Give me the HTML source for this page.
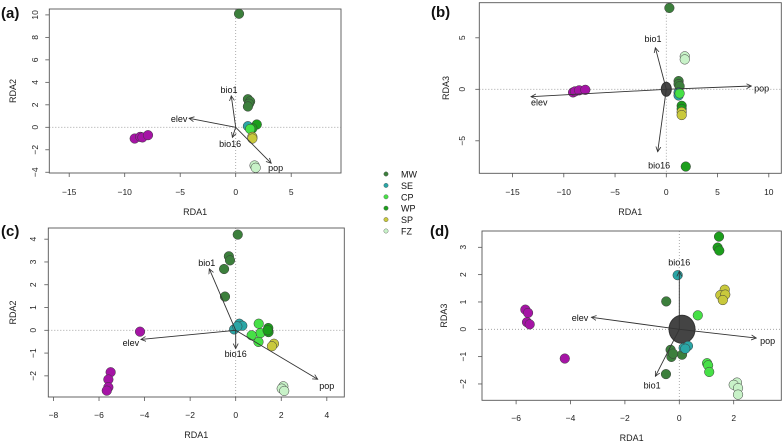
<!DOCTYPE html>
<html><head><meta charset="utf-8">
<style>
body{margin:0;background:#fff;}
svg{display:block;font-family:"Liberation Sans",sans-serif;}
.tk{font-size:8.5px;fill:#222;}
.ttl{font-size:9px;fill:#222;}
.lbl{font-size:9px;fill:#111;}
.pl{font-size:15px;font-weight:bold;fill:#111;}
</style></head>
<body>
<svg id="fig" width="784" height="444" viewBox="0 0 784 444"></svg>
<script>
const groupNames = ["MW","SE","CP","WP","SP","FZ","OUT"];
const groupColors = ["#3c7f3c","#2aa6a6","#46e046","#1c9e1c","#c9c93c","#c8f2c8","#a514a5"];
const legendGroups = ["MW","SE","CP","WP","SP","FZ"];

const aX = [-9.1,-8.6,-8.4,-7.9, 0.3,1.1,1.3,1.2,1.1, 1.1, 1.9,1.5, 1.3, 1.5,1.5, 1.7,1.8];
const aY = [-1.0,-0.85,-0.9,-0.7, 10.1,2.5,2.3,2.1,1.85, 0.1, 0.25,-0.1, -0.15, -0.85,-1.0, -3.4,-3.6];
const aG = ["OUT","OUT","OUT","OUT","MW","MW","MW","MW","MW","SE","WP","WP","CP","SP","SP","FZ","FZ"];
const aVecNames = ["bio1","elev","bio16","pop"];
const aVecX = [-0.4,-4.2,-0.3,3.2];
const aVecY = [2.8,0.8,-0.9,-3.2];
const aLabX = [-0.6,-5.1,-0.5,3.6];
const aLabY = [3.3,0.75,-1.5,-3.6];
const aXTicks = [-15,-10,-5,0,5];
const aYTicks = [-4,-2,0,2,4,6,8,10];

const bX = [-9.1,-8.9,-8.5,-7.9, 0.3,1.2,1.2,1.3, 1.8,1.8, 1.2,1.2, 1.3, 1.5,1.5, 1.5,1.5, 1.9];
const bY = [-0.3,-0.2,-0.1,-0.05, 7.9,0.8,0.5,0.3, 3.2,2.9, -0.3,-0.6, -0.4, -1.6,-1.9, -2.2,-2.5, -7.5];
const bG = ["OUT","OUT","OUT","OUT","MW","MW","MW","MW","FZ","FZ","SE","SE","CP","WP","WP","SP","SP","WP"];
const bVecNames = ["bio1","elev","bio16","pop"];
const bVecX = [-1.07,-13.2,-0.84,8.3];
const bVecY = [4.04,-0.72,-6.06,0.32];
const bLabX = [-1.3,-12.4,-0.7,9.3];
const bLabY = [4.9,-1.3,-7.4,0.1];
const bXTicks = [-15,-10,-5,0,5,10];
const bYTicks = [-5,0,5];

const cX = [-4.2,-5.49,-5.59,-5.59,-5.66, 0.09,-0.3,-0.25,-0.51,-0.47, -0.07,0.16,0.29,0.07, 1.01,1.09,0.7,1.0, 1.43,1.44,1.4, 1.68,1.59, 2.09,2.02,2.13];
const cY = [-0.06,-1.84,-2.16,-2.5,-2.65, 4.2,3.25,3.07,2.69,1.48, 0.04,0.29,0.2,0.17, 0.29,-0.12,-0.22,-0.51, 0.1,-0.08,0.0, -0.59,-0.7, -2.46,-2.56,-2.66];
const cG = ["OUT","OUT","OUT","OUT","OUT","MW","MW","MW","MW","MW","SE","SE","SE","SE","CP","CP","CP","CP","WP","WP","WP","SP","SP","FZ","FZ","FZ"];
const cVecNames = ["bio1","elev","bio16","pop"];
const cVecX = [-1.16,-4.16,0.0,3.6];
const cVecY = [2.7,-0.4,-0.8,-2.15];
const cLabX = [-1.27,-4.6,0.0,4.0];
const cLabY = [2.95,-0.55,-1.05,-2.45];
const cXTicks = [-8,-6,-4,-2,0,2,4];
const cYTicks = [-2,-1,0,1,2,3,4];

const dX = [-5.66,-5.56,-5.6,-5.5,-4.21, -0.48,-0.32,-0.29,0.1,-0.49,-0.23, -0.06,0.16,0.32,0.22, 0.68,1.02,1.06,1.1, 1.46,1.41,1.47, 1.67,1.51,1.69,1.6, 2.12,2.0,2.16,2.16];
const dY = [0.72,0.6,0.26,0.18,-1.07, 1.02,-0.75,-1.01,-0.93,-1.64,-0.89, 1.98,-0.68,-0.61,-0.71, 0.51,-1.24,-1.32,-1.56, 3.39,2.99,2.88, 1.45,1.25,1.27,1.07, -1.95,-2.03,-2.15,-2.39];
const dG = ["OUT","OUT","OUT","OUT","OUT","MW","MW","MW","MW","MW","MW","SE","SE","SE","SE","CP","CP","CP","CP","WP","WP","WP","SP","SP","SP","SP","FZ","FZ","FZ","FZ"];
const dVecNames = ["bio1","elev","bio16","pop"];
const dVecX = [-0.88,-3.23,0.0,2.83];
const dVecY = [-1.72,0.44,2.12,-0.32];
const dLabX = [-1.0,-3.65,0.0,3.25];
const dLabY = [-2.05,0.42,2.45,-0.42];
const dXTicks = [-6,-4,-2,0,2];
const dYTicks = [-2,-1,0,1,2,3];

const NS = "http://www.w3.org/2000/svg";
const svg = document.getElementById("fig");
function mk(tag, attrs, parent){
  const e = document.createElementNS(NS, tag);
  for (const k in attrs) e.setAttribute(k, attrs[k]);
  (parent||svg).appendChild(e);
  return e;
}
const defs = mk("defs",{});
const mkr = mk("marker",{id:"ah",markerWidth:"6",markerHeight:"6",refX:"5",refY:"3",orient:"auto",markerUnits:"userSpaceOnUse"},defs);
mk("path",{d:"M0,0.5 L5,3 L0,5.5",fill:"none",stroke:"#333","stroke-width":"0.8"},mkr);

function panel(cfg){
  const g = mk("g",{});
  
  
  const sx = v => cfg.x0 + v*cfg.kx;
  const sy = v => cfg.y0 - v*cfg.ky;
  const zl = mk("g",{stroke:"#999","stroke-width":"0.8","stroke-dasharray":"1,2"},g);
  
  
  mk("line",{x1:cfg.L,x2:cfg.R,y1:sy(0),y2:sy(0)},zl);
  mk("line",{x1:sx(0),x2:sx(0),y1:cfg.T,y2:cfg.B},zl);
  const box = mk("rect",{x:cfg.L,y:cfg.T,width:cfg.R-cfg.L,height:cfg.B-cfg.T,fill:"none",stroke:"#555","stroke-width":"0.9"},g);
  
  
  cfg.xt.forEach(t=>{
    mk("line",{x1:sx(t),x2:sx(t),y1:cfg.B,y2:cfg.B+4,stroke:"#555","stroke-width":"0.8"},g);
    const tx = mk("text",{x:sx(t),y:cfg.xtY,"text-anchor":"middle",class:"tk"},g);
    tx.textContent = t<0 ? "\u2212"+Math.abs(t) : String(t);
    
    
  });
  cfg.yt.forEach(t=>{
    mk("line",{x1:cfg.L-4,x2:cfg.L,y1:sy(t),y2:sy(t),stroke:"#555","stroke-width":"0.8"},g);
    const tx = mk("text",{x:cfg.ytX,y:sy(t),"text-anchor":"middle",class:"tk",transform:"rotate(-90 "+cfg.ytX+" "+sy(t)+")"},g);
    tx.textContent = t<0 ? "\u2212"+Math.abs(t) : String(t);
    
    
  });
  const xtt = mk("text",{x:(cfg.L+cfg.R)/2,y:cfg.xtitY,"text-anchor":"middle",class:"ttl"},g);
  xtt.textContent = "RDA1";
  
  
  const ym = (cfg.T+cfg.B)/2;
  const ytt = mk("text",{x:cfg.ytitX,y:ym,"text-anchor":"middle",class:"ttl",transform:"rotate(-90 "+cfg.ytitX+" "+ym+")"},g);
  ytt.textContent = cfg.ytitle;
  
  
  const pl = mk("text",{x:cfg.plX,y:cfg.plY,class:"pl"},g);
  pl.textContent = "("+cfg.id+")";
  
  
  if (cfg.blob){
    const b = mk("ellipse",{cx:sx(cfg.blob[0]),cy:sy(0),rx:cfg.blob[1],ry:cfg.blob[2],fill:"#444",stroke:"#333"},g);
    
    
  }
  cfg.px.forEach((v,i)=>{
    const c = mk("circle",{cx:sx(v),cy:sy(cfg.py[i]),r:cfg.r,fill:groupColors[groupNames.indexOf(cfg.pg[i])],stroke:"#3a3a3a","stroke-width":"0.5"},g);
    
    
  });
  cfg.vn.forEach((n,i)=>{
    const ln = mk("line",{x1:sx(0),y1:sy(0),x2:sx(cfg.vx[i]),y2:sy(cfg.vy[i]),stroke:"#333","stroke-width":"0.9","marker-end":"url(#ah)"},g);
    
    
    const t = mk("text",{x:sx(cfg.lx[i]),y:sy(cfg.ly[i])+3,"text-anchor":"middle",class:"lbl"},g);
    t.textContent = n;
    
    
  });
}

panel({id:"a",L:49.3,R:341,T:9,B:173,x0:235.7,kx:11.1,y0:127.3,ky:11.24,xt:aXTicks,yt:aYTicks,xtY:195,xtitY:215,ytX:38,ytitX:16,ytitle:"RDA2",plX:1,plY:18,px:aX,py:aY,pg:aG,vn:aVecNames,vx:aVecX,vy:aVecY,lx:aLabX,ly:aLabY,r:4.8});
panel({id:"b",L:479.3,R:781.3,T:2.7,B:173.3,x0:666.3,kx:10.25,y0:89.3,ky:10.3,xt:bXTicks,yt:bYTicks,xtY:195,xtitY:215,ytX:465,ytitX:449,ytitle:"RDA3",plX:431,plY:17,px:bX,py:bY,pg:bG,vn:bVecNames,vx:bVecX,vy:bVecY,lx:bLabX,ly:bLabY,r:4.8,blob:[0,5,7]});
panel({id:"c",L:48.3,R:344.3,T:228,B:397,x0:235.7,kx:22.78,y0:330.3,ky:22.78,xt:cXTicks,yt:cYTicks,xtY:418,xtitY:438,ytX:36,ytitX:16,ytitle:"RDA2",plX:1,plY:236,px:cX,py:cY,pg:cG,vn:cVecNames,vx:cVecX,vy:cVecY,lx:cLabX,ly:cLabY,r:4.8});
panel({id:"d",L:482,R:781.3,T:231,B:400.3,x0:679.3,kx:27.2,y0:329.3,ky:27.33,xt:dXTicks,yt:dYTicks,xtY:421,xtitY:441,ytX:466,ytitX:447,ytitle:"RDA3",plX:430,plY:236,px:dX,py:dY,pg:dG,vn:dVecNames,vx:dVecX,vy:dVecY,lx:dLabX,ly:dLabY,r:4.8,blob:[0.1,13,14]});

const lg = mk("g",{});


legendGroups.forEach((n,i)=>{
  const y = 174 + i*11.4;
  const c = mk("circle",{cx:386,cy:y,r:2.2,fill:groupColors[i],stroke:"#555","stroke-width":"0.4"},lg);
  
  
  const t = mk("text",{x:401,y:y+3.5,class:"lbl"},lg);
  t.textContent = n;
  
  
});
</script>
</body></html>
